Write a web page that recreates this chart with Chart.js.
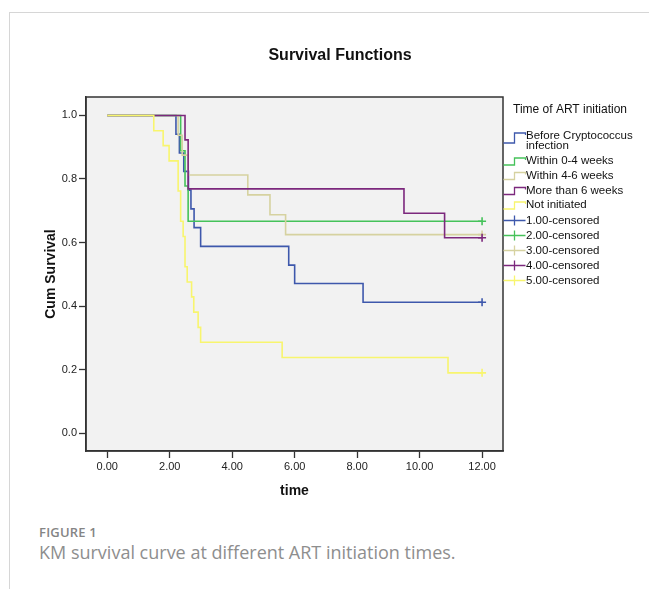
<!DOCTYPE html>
<html>
<head>
<meta charset="utf-8">
<script src="https://cdn.jsdelivr.net/npm/chart.js@4.4.1/dist/chart.umd.min.js"></script>
<style>
  html, body { margin: 0; padding: 0; background: #fff; }
  #page { position: relative; width: 649px; height: 589px; overflow: hidden; }
  #card {
    position: absolute; left: 9px; top: 12px; right: -2px; bottom: -2px;
    border-left: 1px solid #d6d6d6; border-top: 1px solid #d6d6d6;
  }
  #survChart { position: absolute; left: 0; top: 0; }
  #figLabel {
    position: absolute; left: 39px; top: 523px;
    font-family: "Open Sans", sans-serif; font-size: 13px; font-weight: 600;
    color: #858585; letter-spacing: 0.2px;
  }
  #figCaption {
    position: absolute; left: 39px; top: 540px;
    font-family: "Open Sans", sans-serif; font-size: 18px; font-weight: 400;
    color: #8e8e8e;
  }
</style>
</head>
<body>
<div id="page">
  <div id="card"></div>
  <canvas id="survChart" width="649" height="520"></canvas>
  <div id="figLabel">FIGURE 1</div>
  <div id="figCaption">KM survival curve at different ART initiation times.</div>
</div>

<script>
// Kaplan-Meier steps (time in months, cumulative survival)
const beforeTimes = [0, 2.20, 2.31, 2.45, 2.60, 2.68, 2.78, 2.99, 5.81, 6.00, 8.19, 12];
const beforeSurv = [1, 0.941, 0.882, 0.824, 0.765, 0.706, 0.647, 0.588, 0.529, 0.471, 0.412, 0.412];

const within04Times = [0, 2.35, 2.49, 2.59, 12];
const within04Surv = [1, 0.889, 0.778, 0.667, 0.667];

const within46Times = [0, 2.27, 2.40, 2.59, 4.50, 5.21, 5.71, 12];
const within46Surv = [1, 0.9375, 0.875, 0.8125, 0.75, 0.6875, 0.625, 0.625];

const moreThan6Times = [0, 2.49, 2.59, 9.50, 10.80, 12];
const moreThan6Surv = [1, 0.923, 0.769, 0.692, 0.615, 0.615];

const notInitTimes = [0, 1.49, 1.79, 1.98, 2.27, 2.35, 2.43, 2.49, 2.56, 2.70, 2.77, 2.91, 2.99, 5.60, 10.91, 12];
const notInitSurv = [1, 0.952, 0.905, 0.857, 0.762, 0.667, 0.619, 0.524, 0.476, 0.429, 0.381, 0.333, 0.286, 0.238, 0.190, 0.190];

// censored marks (one per group, all at the end of follow-up)
const censorTimes = [12, 12, 12, 12, 12];
const censorSurv = [0.412, 0.667, 0.625, 0.615, 0.190];

const groupNames = ["Before Cryptococcus infection", "Within 0-4 weeks", "Within 4-6 weeks", "More than 6 weeks", "Not initiated"];
const censorNames = ["1.00-censored", "2.00-censored", "3.00-censored", "4.00-censored", "5.00-censored"];
const groupColors = ["#3E58AC", "#45C25A", "#D6D2A0", "#7C287D", "#F8F56E"];

const xTicks = [0, 2, 4, 6, 8, 10, 12];
const yTicks = [0, 0.2, 0.4, 0.6, 0.8, 1.0];

const FONT = "'Liberation Sans', Arial, sans-serif";

function toPoints(times, values) {
  return times.map((t, i) => ({ x: t, y: values[i] }));
}

const allTimes = [beforeTimes, within04Times, within46Times, moreThan6Times, notInitTimes];
const allSurv = [beforeSurv, within04Surv, within46Surv, moreThan6Surv, notInitSurv];

const datasets = [];
for (let i = 0; i < 5; i++) {
  datasets.push({
    label: groupNames[i],
    data: toPoints(allTimes[i], allSurv[i]),
    borderColor: groupColors[i],
    borderWidth: 1.6,
    stepped: "before",
    pointRadius: 0,
    fill: false,
    order: 10 - i, // later groups drawn on top, like SPSS
  });
  datasets.push({
    label: censorNames[i],
    data: [{ x: censorTimes[i], y: censorSurv[i] }],
    showLine: false,
    borderColor: groupColors[i],
    pointStyle: "cross",
    pointRadius: 4,
    pointBorderWidth: 1.6,
    order: 5 - i,
  });
}

// plot background, frame, title and SPSS-style legend
const spssDecor = {
  id: "spssDecor",
  beforeDraw(chart) {
    const { ctx, chartArea: a } = chart;
    ctx.save();
    ctx.fillStyle = "#F2F2F2";
    ctx.fillRect(a.left, a.top, a.right - a.left, a.bottom - a.top);
    ctx.restore();
  },
  afterDraw(chart) {
    const { ctx, chartArea: a } = chart;
    ctx.save();
    ctx.strokeStyle = "#333";
    ctx.lineWidth = 1.5;
    ctx.strokeRect(a.left, a.top, a.right - a.left, a.bottom - a.top);

    // title
    ctx.fillStyle = "#111";
    ctx.font = "bold 16px " + FONT;
    ctx.textAlign = "center";
    ctx.textBaseline = "middle";
    ctx.fillText("Survival Functions", 340, 56);

    // legend
    ctx.textAlign = "left";
    ctx.font = "12px " + FONT;
    ctx.fillText("Time of ART initiation", 513, 110);

    ctx.font = "11.5px " + FONT;
    const gx = a.right + 0.5;
    const rows = [136, 161, 175.5, 190.5, 205];
    for (let i = 0; i < 5; i++) {
      const y = rows[i];
      const low = i === 0 ? y + 7 : y + 4;
      ctx.strokeStyle = groupColors[i];
      ctx.lineWidth = 1.3;
      ctx.beginPath();
      ctx.moveTo(gx, low);
      ctx.lineTo(gx + 11, low);
      ctx.lineTo(gx + 11, y - 3);
      ctx.lineTo(gx + 22, y - 3);
      ctx.lineTo(gx + 22, y - 1);
      ctx.stroke();
      ctx.fillStyle = "#111";
      if (i === 0) {
        ctx.fillText("Before Cryptococcus", 526, y);
        ctx.fillText("infection", 526, y + 10);
      } else {
        ctx.fillText(groupNames[i], 526, y);
      }
    }
    for (let i = 0; i < 5; i++) {
      const y = 220.5 + i * 15;
      ctx.strokeStyle = groupColors[i];
      ctx.lineWidth = 1.3;
      ctx.beginPath();
      ctx.moveTo(gx, y);
      ctx.lineTo(gx + 22, y);
      ctx.moveTo(gx + 11, y - 5);
      ctx.lineTo(gx + 11, y + 5);
      ctx.stroke();
      ctx.fillStyle = "#111";
      ctx.fillText(censorNames[i], 526, y);
    }
    ctx.restore();
  },
};

new Chart(document.getElementById("survChart"), {
  type: "line",
  data: { datasets },
  options: {
    responsive: false,
    animation: false,
    devicePixelRatio: 1,
    layout: { padding: { top: 97, right: 146, bottom: 0, left: 0 } },
    plugins: {
      legend: { display: false },
      title: { display: false },
      tooltip: { enabled: false },
    },
    events: [],
    scales: {
      x: {
        type: "linear",
        min: -0.68,
        max: 12.67,
        afterBuildTicks: (scale) => { scale.ticks = xTicks.map((v) => ({ value: v })); },
        afterFit: (scale) => { scale.height = 69; },
        ticks: {
          color: "#222",
          font: { family: FONT, size: 11 },
          padding: 2,
          maxRotation: 0,
          callback: (v) => Number(v).toFixed(2),
        },
        grid: { drawOnChartArea: false, drawTicks: true, tickLength: 7, tickColor: "#333", tickWidth: 1.3 },
        border: { color: "#333", width: 1.5 },
        title: {
          display: true,
          text: "time",
          color: "#111",
          font: { family: FONT, size: 14, weight: "bold" },
          padding: { top: 0, bottom: 20 },
        },
      },
      y: {
        type: "linear",
        min: -0.056,
        max: 1.058,
        afterBuildTicks: (scale) => { scale.ticks = yTicks.map((v) => ({ value: v })); },
        afterFit: (scale) => { scale.width = 86; },
        ticks: {
          color: "#222",
          font: { family: FONT, size: 11 },
          padding: 2,
          callback: (v) => Number(v).toFixed(1),
        },
        grid: { drawOnChartArea: false, drawTicks: true, tickLength: 7, tickColor: "#333", tickWidth: 1.3 },
        border: { color: "#333", width: 1.5 },
        title: {
          display: true,
          text: "Cum Survival",
          color: "#111",
          font: { family: FONT, size: 14, weight: "bold" },
          padding: { top: 43, bottom: 0 },
        },
      },
    },
  },
  plugins: [spssDecor],
});
</script>
</body>
</html>
